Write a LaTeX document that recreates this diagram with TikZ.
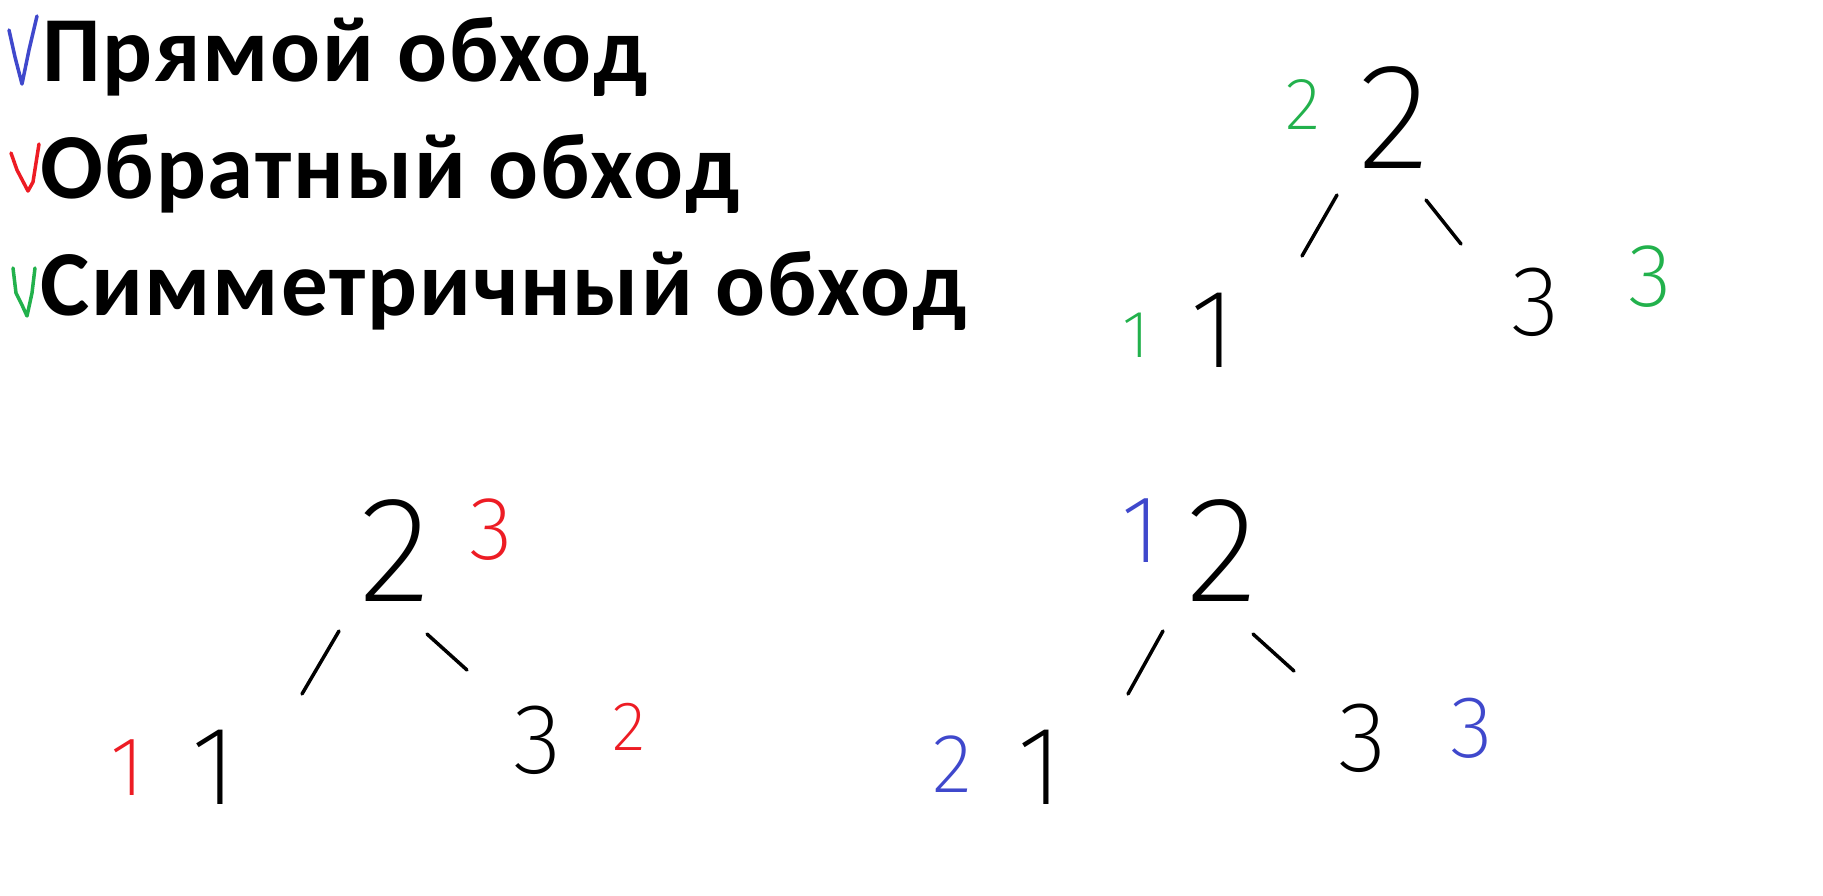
\documentclass[tikz,border=0pt]{standalone}
\usepackage{fontspec}
\setmainfont{Carlito}[LetterSpace=2.0]
\IfFontExistsTF{Fira Sans ExtraLight}{\newfontfamily\handfont{Fira Sans ExtraLight}}{%
 \IfFontExistsTF{Fira Sans Light}{\newfontfamily\handfont{Fira Sans Light}}{%
  \IfFontExistsTF{Lato Light}{\newfontfamily\handfont{Lato Light}}{%
   \IfFontExistsTF{Open Sans Light}{\newfontfamily\handfont{Open Sans Light}}{%
    \IfFontExistsTF{DejaVu Sans ExtraLight}{\newfontfamily\handfont{DejaVu Sans ExtraLight}}{%
     \newfontfamily\handfont{Liberation Sans}}}}}}
\definecolor{pblue}{HTML}{3F48CC}
\definecolor{pred}{HTML}{ED1C24}
\definecolor{pgreen}{HTML}{22B14C}
\begin{document}
\begin{tikzpicture}[x=1pt,y=-1pt,
  title/.style={anchor=base west,inner sep=0pt,font=\fontsize{93}{93}\selectfont\bfseries},
  dig/.style={inner sep=0pt,anchor=center,font=\handfont\fontsize{#1}{#1}\selectfont},
  edge/.style={line width=3.5pt,line cap=round,black},
  tick/.style={line width=3.5pt,line cap=round,line join=round}]
\useasboundingbox[fill=white] (0,0) rectangle (1823,895);
% titles
\node[title] (t1) at (42,81) {Прямой обход};
\node[title] (t2) at (40,198) {Обратный обход};
\node[title] (t3) at (40,315) {Симметричный обход};
\draw[tick,pblue] (9,30) -- (15,57) -- (22,84) -- (29,50) -- (37,16);
\draw[tick,pred] (11,153) -- (17,170) -- (28,191) -- (33,182) -- (39,144);
\draw[tick,pgreen] (13,268) -- (16,293) -- (22,305) -- (27,316) -- (32,293) -- (35,268);
% top tree (symmetric)
\node[dig=151] (a2) at (1394,118) {2};
\node[dig=112] (a1) at (1213,330) {1};
\node[dig=100] (a3) at (1536,302) {3};
\node[dig=74,pgreen] (ga2) at (1303,105) {2};
\node[dig=67,pgreen] (ga1) at (1136,335) {1};
\node[dig=90,pgreen] (ga3) at (1650,277) {3};
\coordinate (ae1) at (1337,195); \coordinate (ae2) at (1302,256);
\coordinate (ae3) at (1426,200); \coordinate (ae4) at (1461,244);
\draw[edge] (ae1) -- (ae2);
\draw[edge] (ae3) -- (ae4);
% bottom-left tree (reverse)
\node[dig=151] (b2) at (395,551) {2};
\node[dig=112] (b1) at (214,767) {1};
\node[dig=100] (b3) at (538,740) {3};
\node[dig=90,pred] (rb3) at (491,530) {3};
\node[dig=84,pred] (rb1) at (128,768) {1};
\node[dig=70,pred] (rb2) at (629,727) {2};
\coordinate (be1) at (339,631); \coordinate (be2) at (302,694);
\coordinate (be3) at (427,634); \coordinate (be4) at (467,670);
\draw[edge] (be1) -- (be2);
\draw[edge] (be3) -- (be4);
% bottom-right tree (direct)
\node[dig=151] (c2) at (1222,551) {2};
\node[dig=112] (c1) at (1040,767) {1};
\node[dig=100] (c3) at (1363,738) {3};
\node[dig=96,pblue] (bc1) at (1141,531) {1};
\node[dig=84,pblue] (bc2) at (952,764) {2};
\node[dig=88,pblue] (bc3) at (1472,728) {3};
\coordinate (ce1) at (1163,631); \coordinate (ce2) at (1128,694);
\coordinate (ce3) at (1253,634); \coordinate (ce4) at (1294,671);
\draw[edge] (ce1) -- (ce2);
\draw[edge] (ce3) -- (ce4);
\end{tikzpicture}
\end{document}
